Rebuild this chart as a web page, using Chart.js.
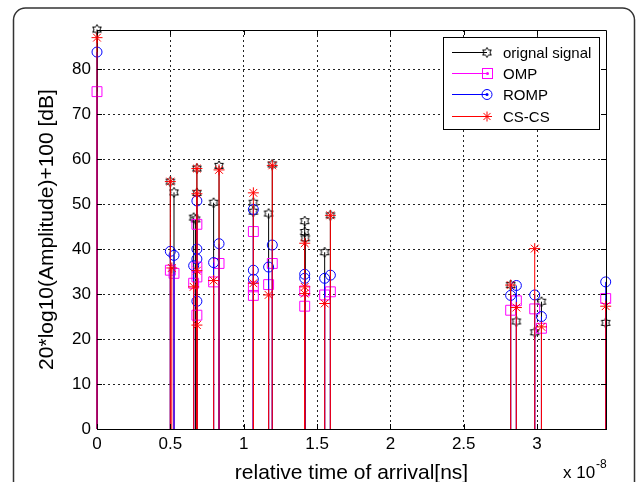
<!DOCTYPE html>
<html>
<head>
<meta charset="utf-8">
<script src="https://cdn.jsdelivr.net/npm/chart.js@4.4.0/dist/chart.umd.min.js"></script>
<style>
  body { margin: 0; background: #fff; }
  canvas { display: block; }
</style>
</head>
<body>
<canvas id="stem-chart" width="637" height="482"></canvas>
<script>
// Stem positions (units of 1e-8 s) and levels (dB) for each reconstruction
var origX = [0, 0.50, 0.525, 0.659, 0.672, 0.681, 0.681, 0.795, 0.832, 1.066, 1.066, 1.17, 1.195, 1.416, 1.416, 1.42, 1.552, 1.591, 2.82, 2.859, 2.984, 3.03, 3.468];
var origY = [88.8, 55.0, 52.6, 47.0, 46.6, 57.9, 52.5, 50.3, 58.5, 50.3, 48.3, 47.9, 58.8, 46.2, 43.8, 42.4, 39.3, 47.5, 32.0, 23.9, 21.5, 28.3, 23.6];

var ompX = [0, 0.50, 0.525, 0.659, 0.681, 0.681, 0.681, 0.681, 0.795, 0.832, 1.066, 1.066, 1.066, 1.17, 1.195, 1.416, 1.416, 1.552, 1.591, 2.82, 2.859, 2.984, 3.03, 3.468];
var ompY = [75.0, 35.3, 34.6, 32.4, 45.5, 36.0, 33.8, 25.3, 32.7, 36.8, 43.9, 31.6, 29.7, 32.1, 36.8, 30.7, 27.3, 29.8, 30.5, 26.4, 28.5, 26.7, 22.4, 29.0];

var rompX = [0, 0.50, 0.525, 0.659, 0.681, 0.681, 0.681, 0.681, 0.795, 0.832, 1.066, 1.066, 1.066, 1.17, 1.195, 1.416, 1.416, 1.552, 1.591, 2.82, 2.859, 2.984, 3.03, 3.468];
var rompY = [83.8, 39.5, 38.6, 36.3, 50.7, 40.0, 37.8, 28.4, 37.0, 41.2, 48.8, 35.3, 33.3, 36.0, 40.9, 34.4, 33.5, 33.5, 34.2, 29.7, 31.9, 29.8, 25.0, 32.7];

var cscsX = [0, 0.50, 0.51, 0.659, 0.681, 0.681, 0.681, 0.681, 0.795, 0.832, 1.066, 1.066, 1.17, 1.195, 1.416, 1.416, 1.416, 1.552, 1.591, 2.82, 2.859, 2.984, 3.03, 3.468];
var cscsY = [87.0, 55.0, 35.8, 31.6, 57.9, 52.3, 35.2, 23.1, 33.0, 57.6, 52.5, 32.4, 29.8, 58.6, 41.3, 31.6, 30.1, 27.9, 47.5, 32.0, 27.0, 40.1, 22.7, 27.3];

var seriesNames = ['orignal signal', 'OMP', 'ROMP', 'CS-CS'];
var xTicks = [0, 0.5, 1, 1.5, 2, 2.5, 3];
var yTicks = [0, 10, 20, 30, 40, 50, 60, 70, 80];

// each stem: baseline point, tip point, gap
function stems(xs, ys) {
    var pts = [];
    for (var i = 0; i < xs.length; i++) {
        pts.push({x: xs[i], y: 0}, {x: xs[i], y: ys[i]}, {x: xs[i], y: null});
    }
    return pts;
}

function tipOnly(r) {
    return function (ctx) { return ctx.raw && ctx.raw.y > 0 ? r : 0; };
}

// matlab style six pointed star marker
function hexagram(size, color) {
    var c = document.createElement('canvas');
    c.width = c.height = size;
    var g = c.getContext('2d');
    var ro = size / 2 - 1, ri = ro / Math.sqrt(3);
    g.beginPath();
    for (var k = 0; k < 12; k++) {
        var r = k % 2 ? ri : ro;
        var a = -Math.PI / 2 + k * Math.PI / 6;
        var px = size / 2 + r * Math.cos(a), py = size / 2 + r * Math.sin(a);
        if (k === 0) g.moveTo(px, py); else g.lineTo(px, py);
    }
    g.closePath();
    g.strokeStyle = color;
    g.lineWidth = 1;
    g.stroke();
    return c;
}
var hexMarker = hexagram(12, '#000');

var colors = ['#000000', '#ff00ff', '#0000ff', '#ff0000'];

function makeSet(i, xs, ys, style, r) {
    return {
        label: seriesNames[i],
        data: stems(xs, ys),
        borderColor: colors[i],
        borderWidth: 1,
        pointStyle: style,
        pointRadius: tipOnly(r),
        pointBorderColor: colors[i],
        pointBackgroundColor: 'rgba(0,0,0,0)',
        pointBorderWidth: 1,
        tension: 0,
        clip: false,
        order: 3 - i
    };
}

// frame, axes box, inward ticks, legend, exponent
var decorations = {
    id: 'decorations',
    afterDraw: function (chart) {
        var ctx = chart.ctx, a = chart.chartArea;
        var xs = chart.scales.x, ys = chart.scales.y;
        ctx.save();

        // rounded figure frame
        ctx.strokeStyle = '#333';
        ctx.lineWidth = 1.5;
        var l = 13.5, t = 8, r = 634.5, b = 495, rad = 12;
        ctx.beginPath();
        ctx.moveTo(l, b);
        ctx.lineTo(l, t + rad);
        ctx.arcTo(l, t, l + rad, t, rad);
        ctx.lineTo(r - rad, t);
        ctx.arcTo(r, t, r, t + rad, rad);
        ctx.lineTo(r, b);
        ctx.stroke();

        // top and right box lines
        ctx.strokeStyle = '#000';
        ctx.lineWidth = 1;
        ctx.beginPath();
        ctx.moveTo(a.left, a.top + 0.5);
        ctx.lineTo(a.right + 0.5, a.top + 0.5);
        ctx.lineTo(a.right + 0.5, a.bottom);
        ctx.stroke();

        // inward ticks on all four sides
        ctx.beginPath();
        xTicks.forEach(function (v) {
            var px = Math.round(xs.getPixelForValue(v)) + 0.5;
            ctx.moveTo(px, a.bottom); ctx.lineTo(px, a.bottom - 5);
            ctx.moveTo(px, a.top); ctx.lineTo(px, a.top + 5);
        });
        yTicks.forEach(function (v) {
            var py = Math.round(ys.getPixelForValue(v)) + 0.5;
            ctx.moveTo(a.left, py); ctx.lineTo(a.left + 5, py);
            ctx.moveTo(a.right, py); ctx.lineTo(a.right - 5, py);
        });
        ctx.stroke();

        // legend box
        var bx = 443.5, by = 37.5, bw = 156, bh = 92;
        ctx.fillStyle = '#fff';
        ctx.fillRect(bx, by, bw, bh);
        ctx.strokeStyle = '#000';
        ctx.lineWidth = 1;
        ctx.strokeRect(bx, by, bw, bh);
        var rows = [52.5, 73.5, 94.5, 116.5];
        ctx.font = '15px "Liberation Sans", Arial, sans-serif';
        ctx.textBaseline = 'middle';
        ctx.textAlign = 'left';
        for (var i = 0; i < 4; i++) {
            var yy = rows[i], mx = 487;
            ctx.strokeStyle = colors[i];
            ctx.fillStyle = colors[i];
            ctx.beginPath();
            ctx.moveTo(452, yy); ctx.lineTo(mx, yy);
            ctx.stroke();
            if (i === 0) {
                ctx.drawImage(hexMarker, mx - 6, yy - 6);
            } else if (i === 1) {
                ctx.strokeRect(mx - 4.5, yy - 5, 10, 10);
                ctx.beginPath(); ctx.arc(mx + 0.5, yy, 1.5, 0, Math.PI * 2); ctx.fill();
            } else if (i === 2) {
                ctx.beginPath(); ctx.arc(mx, yy, 5, 0, Math.PI * 2); ctx.stroke();
                ctx.beginPath(); ctx.arc(mx, yy, 1.5, 0, Math.PI * 2); ctx.fill();
            } else {
                ctx.beginPath();
                for (var k = 0; k < 4; k++) {
                    var ang = k * Math.PI / 4;
                    ctx.moveTo(mx - 5 * Math.cos(ang), yy - 5 * Math.sin(ang));
                    ctx.lineTo(mx + 5 * Math.cos(ang), yy + 5 * Math.sin(ang));
                }
                ctx.stroke();
            }
            ctx.fillStyle = '#000';
            ctx.fillText(seriesNames[i], 503, yy + 1);
        }

        // x 10^-8 exponent label
        ctx.fillStyle = '#000';
        ctx.textBaseline = 'alphabetic';
        ctx.font = '17px "Liberation Sans", Arial, sans-serif';
        ctx.fillText('x 10', 563, 477.5);
        ctx.font = '12px "Liberation Sans", Arial, sans-serif';
        ctx.fillText('-8', 596, 468);
        ctx.restore();
    }
};

Chart.defaults.color = '#000';
Chart.defaults.font.family = '"Liberation Sans", Arial, sans-serif';

var ctx = document.getElementById('stem-chart').getContext('2d');
var stemChart = new Chart(ctx, {
    type: 'line',
    data: {
        datasets: [
            makeSet(0, origX, origY, hexMarker, 5),
            makeSet(1, ompX, ompY, 'rect', 7),
            makeSet(2, rompX, rompY, 'circle', 5),
            makeSet(3, cscsX, cscsY, 'star', 5.5)
        ]
    },
    options: {
        responsive: false,
        animation: false,
        events: [],
        layout: { padding: { left: 0, right: 31, top: 30, bottom: 0 } },
        plugins: { legend: { display: false }, tooltip: { enabled: false } },
        scales: {
            x: {
                type: 'linear',
                min: 0,
                max: 3.47,
                afterBuildTicks: function (scale) {
                    scale.ticks = xTicks.map(function (v) { return {value: v}; });
                },
                afterFit: function (scale) { scale.height = 53; },
                ticks: {
                    font: { size: 17 },
                    padding: 5,
                    maxRotation: 0,
                    autoSkip: false,
                    callback: function (v) { return String(v); }
                },
                grid: { color: '#222', lineWidth: 1, drawTicks: false },
                border: { color: '#000', width: 1, dash: [2, 3] },
                title: {
                    display: true,
                    text: 'relative time of arrival[ns]',
                    font: { size: 21, lineHeight: 1 },
                    padding: { top: 0, bottom: -2 }
                }
            },
            y: {
                type: 'linear',
                min: 0,
                max: 88.7,
                afterBuildTicks: function (scale) {
                    scale.ticks = yTicks.map(function (v) { return {value: v}; });
                },
                afterFit: function (scale) { scale.width = 97; },
                ticks: { font: { size: 17 }, padding: 6, callback: function (v) { return String(v); } },
                grid: { color: '#222', lineWidth: 1, drawTicks: false },
                border: { color: '#000', width: 1, dash: [2, 3] },
                title: {
                    display: true,
                    text: '20*log10(Amplitude)+100 [dB]',
                    font: { size: 21, lineHeight: 1 },
                    padding: { top: 37, bottom: 0 }
                }
            }
        }
    },
    plugins: [decorations]
});
</script>
</body>
</html>
